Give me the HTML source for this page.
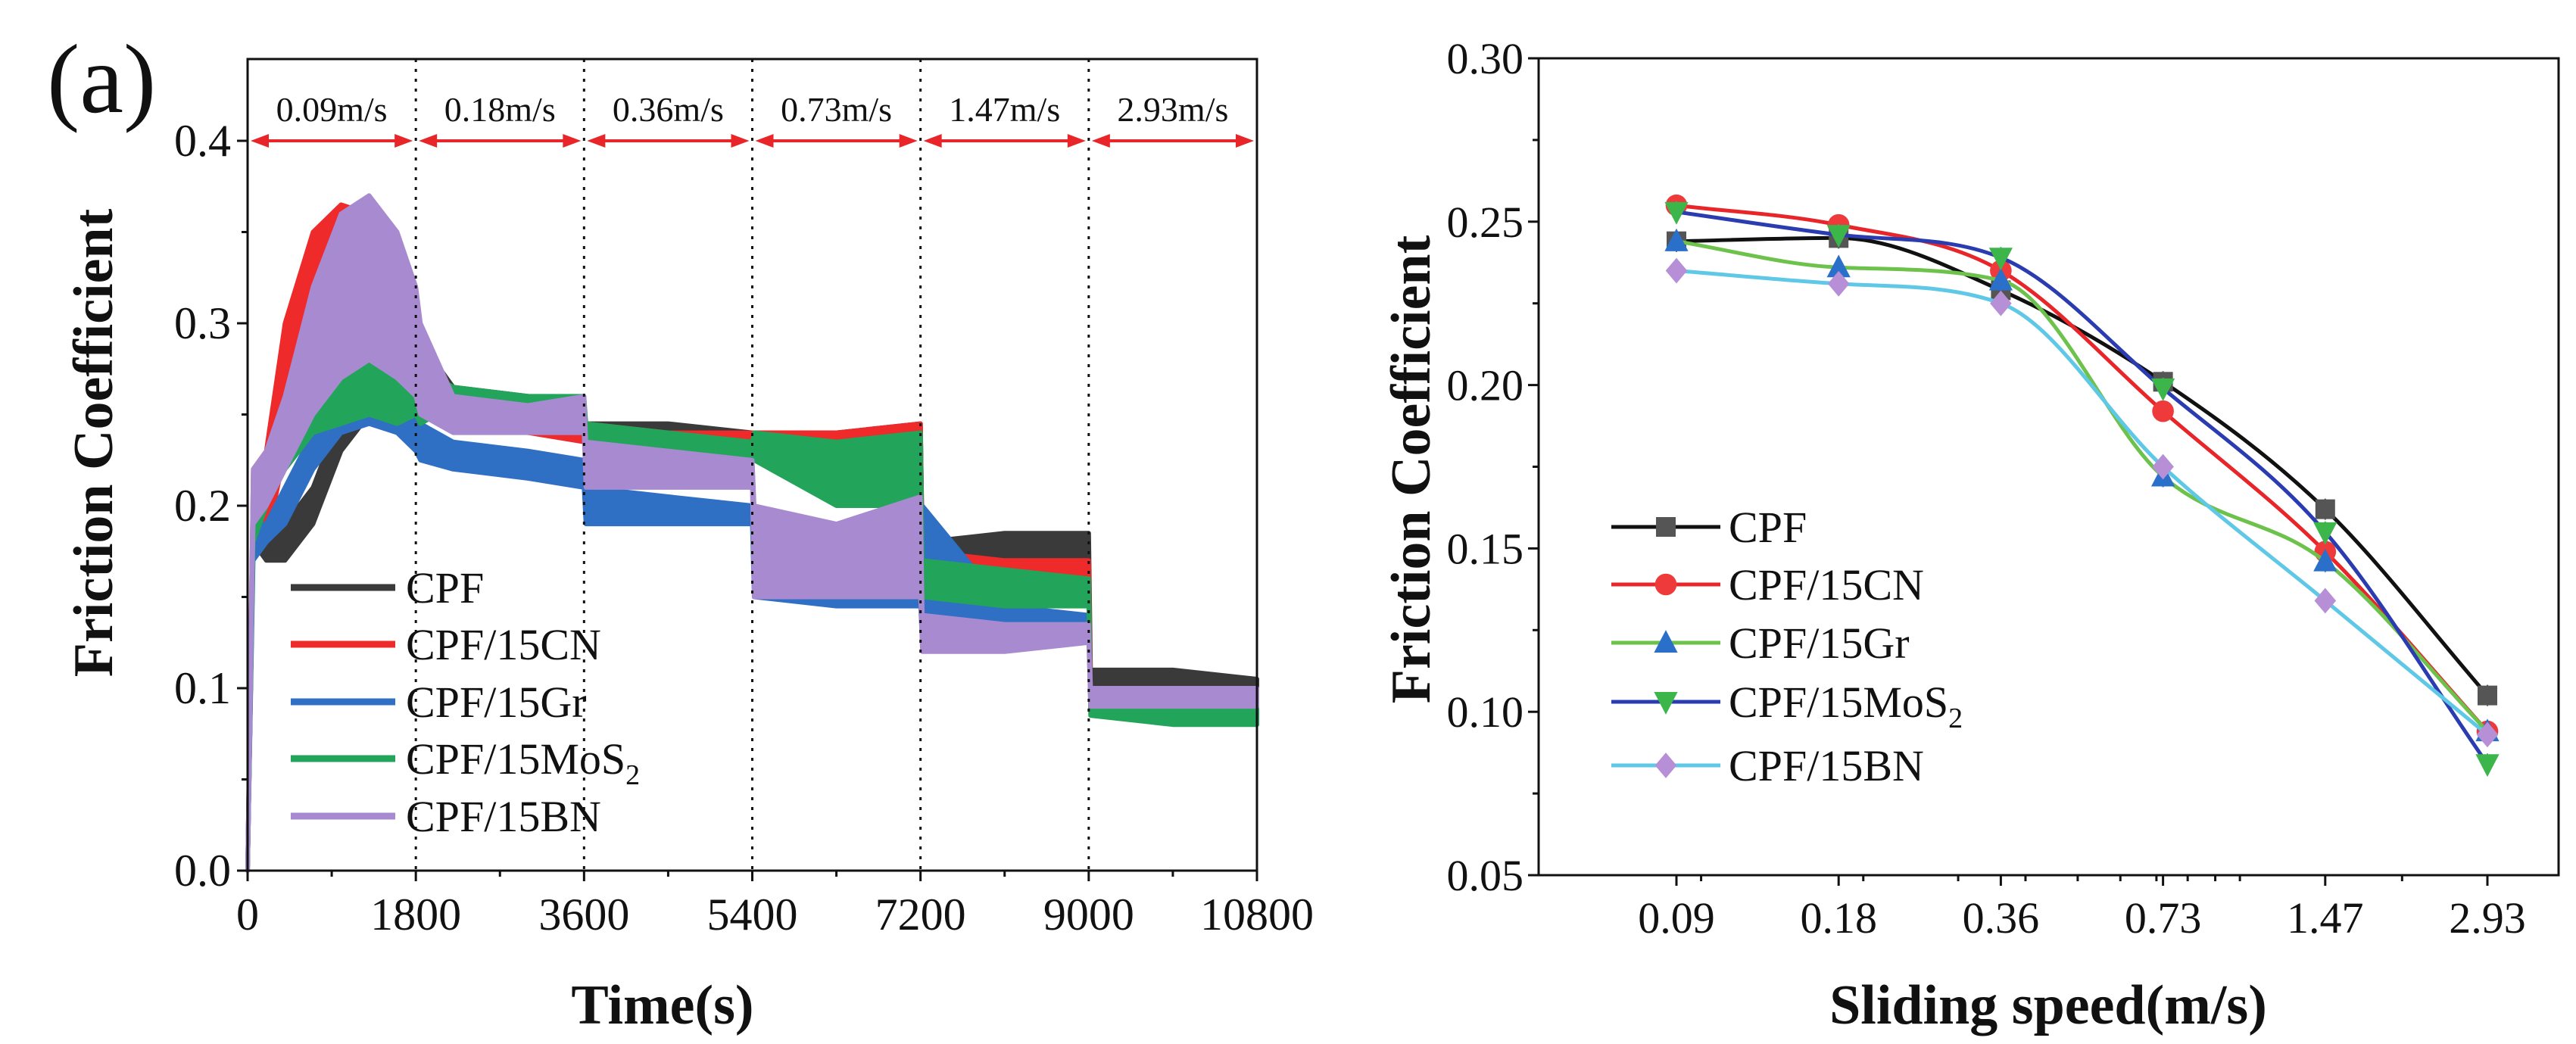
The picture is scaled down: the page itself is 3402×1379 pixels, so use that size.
<!DOCTYPE html>
<html><head><meta charset="utf-8">
<style>
html,body{margin:0;padding:0;background:#fff;}
svg{display:block;font-family:"Liberation Serif",serif;}
svg text{font-family:"Liberation Serif",serif;}
</style></head>
<body>
<svg id="fig" width="3402" height="1379" viewBox="0 0 3402 1379" xmlns="http://www.w3.org/2000/svg">
<g id="left"></g>
<g id="right"></g>
</svg>
<script>
// ---------- Left chart data ----------
const times = [0,60,200,400,700,1000,1300,1600,1800,1850,2200,3000,3600,3620,4500,5400,5420,6300,7200,7220,8100,9000,9020,9900,10800];
const cpfLo = [0,0.18,0.17,0.17,0.19,0.23,0.25,0.26,0.27,0.26,0.25,0.245,0.24,0.235,0.235,0.23,0.23,0.23,0.235,0.17,0.17,0.17,0.10,0.10,0.10];
const cpfHi = [0,0.20,0.19,0.19,0.21,0.25,0.28,0.29,0.29,0.29,0.265,0.26,0.255,0.245,0.245,0.24,0.24,0.24,0.245,0.18,0.185,0.185,0.11,0.11,0.105];
const cnLo = [0,0.18,0.18,0.23,0.27,0.30,0.30,0.26,0.25,0.25,0.245,0.24,0.235,0.23,0.23,0.23,0.23,0.23,0.23,0.16,0.16,0.16,0.09,0.09,0.09];
const cnHi = [0,0.22,0.23,0.30,0.35,0.365,0.36,0.33,0.28,0.27,0.26,0.255,0.25,0.245,0.24,0.24,0.24,0.24,0.245,0.175,0.17,0.17,0.10,0.095,0.095];
const grLo = [0,0.17,0.18,0.19,0.22,0.24,0.245,0.24,0.23,0.225,0.22,0.215,0.21,0.19,0.19,0.19,0.15,0.145,0.145,0.125,0.13,0.13,0.09,0.09,0.09];
const grHi = [0,0.19,0.19,0.21,0.24,0.26,0.27,0.26,0.25,0.245,0.235,0.23,0.225,0.21,0.205,0.20,0.165,0.155,0.155,0.20,0.145,0.14,0.10,0.095,0.095];
const mosLo = [0,0.18,0.20,0.22,0.24,0.245,0.25,0.245,0.25,0.245,0.255,0.25,0.245,0.23,0.23,0.225,0.225,0.20,0.20,0.15,0.145,0.145,0.085,0.08,0.08];
const mosHi = [0,0.20,0.22,0.25,0.27,0.29,0.30,0.29,0.285,0.275,0.265,0.26,0.26,0.245,0.24,0.235,0.24,0.235,0.24,0.17,0.165,0.16,0.09,0.09,0.09];
const bnLo = [0,0.19,0.20,0.22,0.25,0.27,0.28,0.27,0.26,0.25,0.24,0.24,0.24,0.21,0.21,0.21,0.15,0.15,0.15,0.12,0.12,0.125,0.09,0.09,0.09];
const bnHi = [0,0.22,0.23,0.26,0.32,0.36,0.37,0.35,0.32,0.30,0.26,0.255,0.26,0.235,0.23,0.225,0.20,0.19,0.205,0.14,0.135,0.135,0.10,0.10,0.10];
const leftNames = ["CPF","CPF/15CN","CPF/15Gr","CPF/15MoS","CPF/15BN"];
const speedLabels = ["0.09m/s","0.18m/s","0.36m/s","0.73m/s","1.47m/s","2.93m/s"];
const xTicksL = [0,1800,3600,5400,7200,9000,10800];
const yTicksL = [0.0,0.1,0.2,0.3,0.4];

// ---------- Right chart data ----------
const speeds = ["0.09","0.18","0.36","0.73","1.47","2.93"];
const rCPF = [0.244,0.245,0.229,0.201,0.162,0.105];
const rCN  = [0.255,0.249,0.235,0.192,0.149,0.094];
const rGr  = [0.244,0.236,0.232,0.172,0.146,0.094];
const rMoS = [0.253,0.246,0.239,0.199,0.155,0.084];
const rBN  = [0.235,0.231,0.225,0.175,0.134,0.093];
const yTicksR = [0.05,0.10,0.15,0.20,0.25,0.30];

const NS="http://www.w3.org/2000/svg";
function mk(parent,tag,attrs,text){const e=document.createElementNS(NS,tag);for(const k in attrs)e.setAttribute(k,attrs[k]);if(text!==undefined)e.textContent=text;parent.appendChild(e);return e;}

// ===== LEFT =====
const L=document.getElementById('left');
const lx0=327,lx1=1660,ly0=1150,ly1=186,lyTop=78;
const xL=t=>lx0+t/10800*(lx1-lx0);
const yL=v=>ly0-v/0.4*(ly0-ly1);
const bands=[[cpfLo,cpfHi,"#3a3a3a"],[cnLo,cnHi,"#ee2a2a"],[grLo,grHi,"#2f6fc4"],[mosLo,mosHi,"#22a55a"],[bnLo,bnHi,"#a88ad0"]];
const bandNames=["band-cpf","band-cn","band-gr","band-mos2","band-bn"];
bands.forEach((b,i)=>{
  let d="M";
  times.forEach((t,j)=>{d+=xL(t).toFixed(1)+","+yL(b[1][j]).toFixed(1)+" L";});
  for(let j=times.length-1;j>=0;j--){d+=xL(times[j]).toFixed(1)+","+yL(b[0][j]).toFixed(1)+(j?" L":" Z");}
  const p=mk(L,"path",{d:d,fill:b[2],stroke:b[2],"stroke-width":6,"stroke-linejoin":"round"});
  
  
});
const fr=mk(L,"rect",{x:lx0,y:lyTop,width:lx1-lx0,height:ly0-lyTop,fill:"none",stroke:"#111","stroke-width":3});


xTicksL.slice(1,-1).forEach(t=>{
  const l=mk(L,"line",{x1:xL(t),x2:xL(t),y1:lyTop,y2:ly0,stroke:"#111","stroke-width":3,"stroke-dasharray":"4,9"});
  
  
});
speedLabels.forEach((s,i)=>{
  const a=xL(i*1800)+4,b=xL((i+1)*1800)-4,y=yL(0.4);
  const g=mk(L,"g",{});
  
  
  mk(g,"line",{x1:a+12,x2:b-12,y1:y,y2:y,stroke:"#e8262a","stroke-width":4});
  mk(g,"polygon",{points:`${a},${y} ${a+24},${y-9} ${a+24},${y+9}`,fill:"#e8262a"});
  mk(g,"polygon",{points:`${b},${y} ${b-24},${y-9} ${b-24},${y+9}`,fill:"#e8262a"});
  const tx=mk(L,"text",{x:(xL(i*1800)+xL((i+1)*1800))/2,y:160,"font-size":46,"text-anchor":"middle",fill:"#111"},s);
  
  
});
xTicksL.forEach(t=>{
  mk(L,"line",{x1:xL(t),x2:xL(t),y1:ly0,y2:ly0+14,stroke:"#111","stroke-width":3});
  const tx=mk(L,"text",{x:xL(t),y:1228,"font-size":60,"text-anchor":"middle",fill:"#111"},String(t));
  
  
});
for(let t=900;t<10800;t+=1800){mk(L,"line",{x1:xL(t),x2:xL(t),y1:ly0,y2:ly0+8,stroke:"#111","stroke-width":3});}
yTicksL.forEach(v=>{
  mk(L,"line",{x1:lx0-14,x2:lx0,y1:yL(v),y2:yL(v),stroke:"#111","stroke-width":3});
  const tx=mk(L,"text",{x:lx0-22,y:yL(v)+20,"font-size":60,"text-anchor":"end",fill:"#111"},v.toFixed(1));
  
  
});
for(let v=0.05;v<0.4;v+=0.1){mk(L,"line",{x1:lx0-8,x2:lx0,y1:yL(v),y2:yL(v),stroke:"#111","stroke-width":3});}
let t1=mk(L,"text",{x:875,y:1352,"font-size":74,"font-weight":"bold","text-anchor":"middle",fill:"#111"},"Time(s)");

let t2=mk(L,"text",{x:0,y:0,"font-size":74,"font-weight":"bold","text-anchor":"middle",fill:"#111",transform:"translate(148,585) rotate(-90)"},"Friction Coefficient");

let t3=mk(L,"text",{x:62,y:148,"font-size":130,fill:"#111"},"(a)");

const legYL=[776,851,927,1002,1078];
bands.forEach((b,i)=>{
  const g=mk(L,"g",{});
  
  
  mk(g,"line",{x1:384,x2:522,y1:legYL[i],y2:legYL[i],stroke:b[2],"stroke-width":9});
  const tx=mk(g,"text",{x:536,y:legYL[i]+20,"font-size":58,fill:"#111"},leftNames[i]);
  if(i===3){mk(tx,"tspan",{"font-size":38,dy:14},"2");}
});

// ===== RIGHT =====
const R=document.getElementById('right');
const rx0=2032,rx1=3379,ry0=1156,ry1=77;
const xR=i=>2214+i*214.2;
const yR=v=>ry0-(v-0.05)/0.25*(ry0-ry1);
const fr2=mk(R,"rect",{x:rx0,y:ry1,width:rx1-rx0,height:ry0-ry1,fill:"none",stroke:"#111","stroke-width":3});


yTicksR.forEach(v=>{
  mk(R,"line",{x1:rx0-14,x2:rx0,y1:yR(v),y2:yR(v),stroke:"#111","stroke-width":3});
  const tx=mk(R,"text",{x:rx0-20,y:yR(v)+20,"font-size":58,"text-anchor":"end",fill:"#111"},v.toFixed(2));
  
  
});
for(let v=0.075;v<0.3;v+=0.05){mk(R,"line",{x1:rx0-8,x2:rx0,y1:yR(v),y2:yR(v),stroke:"#111","stroke-width":3});}
speeds.forEach((s,i)=>{
  mk(R,"line",{x1:xR(i),x2:xR(i),y1:ry0,y2:ry0+14,stroke:"#111","stroke-width":3});
  const tx=mk(R,"text",{x:xR(i),y:1232,"font-size":58,"text-anchor":"middle",fill:"#111"},s);
  
  
});
const logx=v=>2214+Math.log2(v/0.09)*214.2;
[0.1,0.2,0.3,0.4,0.5,0.6,0.7,0.8,0.9,1,2].forEach(v=>{mk(R,"line",{x1:logx(v),x2:logx(v),y1:ry0,y2:ry0+8,stroke:"#111","stroke-width":3});});
let t4=mk(R,"text",{x:2705,y:1352,"font-size":74,"font-weight":"bold","text-anchor":"middle",fill:"#111"},"Sliding speed(m/s)");

let t5=mk(R,"text",{x:0,y:0,"font-size":74,"font-weight":"bold","text-anchor":"middle",fill:"#111",transform:"translate(1888,620) rotate(-90)"},"Friction Coefficient");


const series=[
 {d:rCPF,line:"#111",mark:"#555",shape:"sq",name:"CPF"},
 {d:rCN,line:"#e8262a",mark:"#ee3a3a",shape:"ci",name:"CPF/15CN"},
 {d:rGr,line:"#6cc24a",mark:"#2a6fc9",shape:"tu",name:"CPF/15Gr"},
 {d:rMoS,line:"#2a3cb0",mark:"#3cb54a",shape:"td",name:"CPF/15MoS"},
 {d:rBN,line:"#5ec8e6",mark:"#b78fd6",shape:"di",name:"CPF/15BN"}];
// monotone cubic (Fritsch–Carlson)
function spline(pts){
  const n=pts.length,dx=[],dy=[],m=[],t=[];
  for(let i=0;i<n-1;i++){dx.push(pts[i+1][0]-pts[i][0]);dy.push(pts[i+1][1]-pts[i][1]);m.push(dy[i]/dx[i]);}
  t[0]=m[0];t[n-1]=m[n-2];
  for(let i=1;i<n-1;i++){t[i]=(m[i-1]*m[i]<=0)?0:(m[i-1]+m[i])/2;}
  for(let i=0;i<n-1;i++){
    if(m[i]===0){t[i]=0;t[i+1]=0;continue;}
    const a=t[i]/m[i],b=t[i+1]/m[i],s=a*a+b*b;
    if(s>9){const k=3/Math.sqrt(s);t[i]=k*a*m[i];t[i+1]=k*b*m[i];}
  }
  let d=`M${pts[0][0]},${pts[0][1]}`;
  for(let i=0;i<n-1;i++){
    const h=dx[i]/3;
    d+=` C${pts[i][0]+h},${pts[i][1]+t[i]*h} ${pts[i+1][0]-h},${pts[i+1][1]-t[i+1]*h} ${pts[i+1][0]},${pts[i+1][1]}`;
  }
  return d;
}
function marker(g,shape,x,y,c,s){
  if(shape==="sq")return mk(g,"rect",{x:x-s,y:y-s,width:2*s,height:2*s,fill:c});
  if(shape==="ci")return mk(g,"circle",{cx:x,cy:y,r:s*1.1,fill:c});
  if(shape==="tu")return mk(g,"polygon",{points:`${x},${y-s*1.3} ${x-s*1.2},${y+s} ${x+s*1.2},${y+s}`,fill:c});
  if(shape==="td")return mk(g,"polygon",{points:`${x},${y+s*1.3} ${x-s*1.2},${y-s} ${x+s*1.2},${y-s}`,fill:c});
  return mk(g,"polygon",{points:`${x},${y-s*1.3} ${x+s*1.1},${y} ${x},${y+s*1.3} ${x-s*1.1},${y}`,fill:c});
}
const serNames=["series-cpf","series-cn","series-gr","series-mos2","series-bn"];
series.forEach((s,k)=>{
  const g=mk(R,"g",{});
  
  
  const pts=s.d.map((v,i)=>[xR(i),yR(v)]);
  mk(g,"path",{d:spline(pts),fill:"none",stroke:s.line,"stroke-width":5});
  pts.forEach(p=>{
    mk(g,"line",{x1:p[0],x2:p[0],y1:p[1]-14,y2:p[1]+14,stroke:s.mark,"stroke-width":2});
    const m=marker(g,s.shape,p[0],p[1],s.mark,13);
    
    
  });
});
const legYR=[696,772,849,927,1011];
series.forEach((s,i)=>{
  const g=mk(R,"g",{});
  
  
  mk(g,"line",{x1:2128,x2:2272,y1:legYR[i],y2:legYR[i],stroke:s.line,"stroke-width":5});
  marker(g,s.shape,2200,legYR[i],s.mark,13);
  const tx=mk(g,"text",{x:2283,y:legYR[i]+20,"font-size":58,fill:"#111"},s.name);
  if(i===3){mk(tx,"tspan",{"font-size":38,dy:14},"2");}
});
</script>
</body></html>
